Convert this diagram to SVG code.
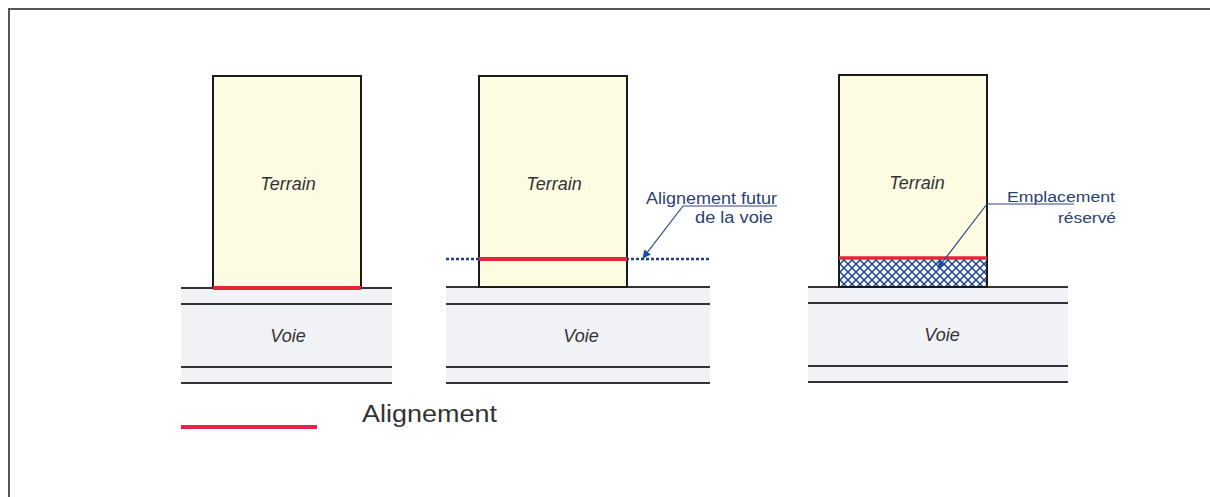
<svg xmlns="http://www.w3.org/2000/svg" width="1210" height="497" viewBox="0 0 1210 497">
<style>
.lbl{font-family:"Liberation Sans",Arial,sans-serif;font-style:italic;font-size:18px;fill:#333}
.note{font-family:"Liberation Sans",Arial,sans-serif;fill:#2a4272}
.terrain{fill:#fdfbe1;stroke:#1a1a1a;stroke-width:2}
.road{fill:#f0f2f6}
.rl{stroke:#333;stroke-width:2}
.red{stroke:#e8243a;stroke-width:4}
.lead{stroke:#2a4a80;stroke-width:1.2;fill:none}
</style>
<defs>
<marker id="arr" viewBox="0 0 10 10" refX="9" refY="5" markerWidth="7" markerHeight="7" orient="auto-start-reverse">
<path d="M0,0 L10,5 L0,10 z" fill="#1d4fa0"/>
</marker>
<pattern id="hatch" width="8" height="8" patternUnits="userSpaceOnUse">
<rect width="8" height="8" fill="#eef3fb"/>
<path d="M0,0 L8,8 M8,0 L0,8" stroke="#1d3f8a" stroke-width="1.4"/>
</pattern>
</defs>
<rect width="1210" height="497" fill="#fff"/>
<g id="frame">
<path d="M9,497 V9 H1210" fill="none" stroke="#555" stroke-width="2"/>
</g>
<g id="panel1">
<rect class="road" x="181" y="289" width="211" height="94"/>
<line class="rl" x1="181" y1="288" x2="392" y2="288" stroke-width="1.5"/>
<line class="rl" x1="181" y1="304" x2="392" y2="304"/>
<line class="rl" x1="181" y1="367" x2="392" y2="367"/>
<line class="rl" x1="181" y1="383" x2="392" y2="383"/>
<rect class="terrain" x="213" y="76" width="148" height="212"/>
<line class="red" x1="213" y1="288" x2="361" y2="288"/>
<text class="lbl" x="288" y="190" text-anchor="middle">Terrain</text>
<text class="lbl" x="288" y="342" text-anchor="middle">Voie</text>
</g>
<g id="panel2">
<rect class="road" x="446" y="288" width="264" height="95"/>
<line class="rl" x1="446" y1="287" x2="710" y2="287" stroke-width="1.5"/>
<line class="rl" x1="446" y1="304" x2="710" y2="304"/>
<line class="rl" x1="446" y1="367" x2="710" y2="367"/>
<line class="rl" x1="446" y1="383" x2="710" y2="383"/>
<rect class="terrain" x="479" y="76" width="148" height="211"/>
<line x1="446" y1="259" x2="710" y2="259" stroke="#1d3f8a" stroke-width="2.5" stroke-dasharray="3,2"/>
<line class="red" x1="479" y1="259" x2="627" y2="259"/>
<text class="lbl" x="554" y="190" text-anchor="middle">Terrain</text>
<text class="lbl" x="581" y="342" text-anchor="middle">Voie</text>
<text class="note" x="646" y="204" font-size="16" textLength="131" lengthAdjust="spacingAndGlyphs">Alignement futur</text>
<text class="note" x="695" y="223" font-size="16" textLength="78" lengthAdjust="spacingAndGlyphs">de la voie</text>
</g>
<g id="panel3">
<rect class="road" x="808" y="288" width="260" height="95"/>
<line class="rl" x1="808" y1="287" x2="1068" y2="287" stroke-width="1.5"/>
<line class="rl" x1="808" y1="303" x2="1068" y2="303"/>
<line class="rl" x1="808" y1="366" x2="1068" y2="366"/>
<line class="rl" x1="808" y1="382" x2="1068" y2="382"/>
<rect class="terrain" x="839" y="75" width="148" height="212"/>
<rect x="840" y="259" width="146" height="27" fill="url(#hatch)"/>
<line x1="839" y1="258" x2="987" y2="258" stroke="#e8243a" stroke-width="3.5"/>
<text class="lbl" x="917" y="189" text-anchor="middle">Terrain</text>
<text class="lbl" x="942" y="341" text-anchor="middle">Voie</text>
<text class="note" x="1007" y="202" font-size="14" textLength="108" lengthAdjust="spacingAndGlyphs">Emplacement</text>
<text class="note" x="1058" y="223" font-size="14" textLength="58" lengthAdjust="spacingAndGlyphs">réservé</text>
</g>
<g id="connectors">
<path class="lead" d="M777,206 H683 L643,258" marker-end="url(#arr)"/>
<path class="lead" d="M1074,204 H987 L938,268" marker-end="url(#arr)"/>
</g>
<g id="legend">
<line x1="181" y1="427" x2="317" y2="427" stroke="#e3254a" stroke-width="4"/>
<text x="362" y="422" font-family="'Liberation Sans',Arial,sans-serif" font-size="23" textLength="135" lengthAdjust="spacingAndGlyphs" fill="#333">Alignement</text>
</g>
</svg>
